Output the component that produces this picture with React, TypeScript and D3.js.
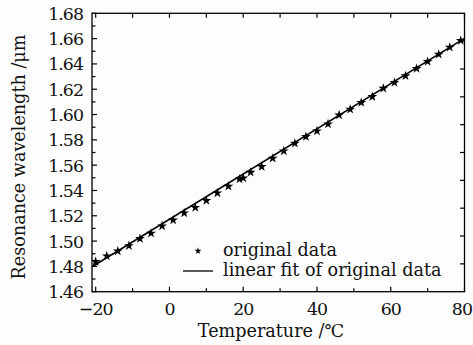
import React from "react";
import * as d3 from "d3";

const temperatures = [-20, -17, -14, -11, -8, -5, -2, 1, 4, 7, 10, 13, 16, 19, 20, 22, 25, 28, 31, 34, 37, 40, 43, 46, 49, 52, 55, 58, 61, 64, 67, 70, 73, 76, 79];
const wavelengths = [1.4837, 1.4882, 1.4921, 1.4963, 1.5019, 1.5061, 1.5119, 1.5166, 1.5222, 1.5265, 1.532, 1.538, 1.5433, 1.549, 1.5498, 1.5543, 1.5588, 1.5654, 1.5712, 1.5772, 1.5825, 1.587, 1.5925, 1.5996, 1.6041, 1.6094, 1.6141, 1.6207, 1.6252, 1.6305, 1.6363, 1.6418, 1.6476, 1.6531, 1.6584];
const fitX = [-21, 80];
const fitY = [1.4797, 1.6602];
const xTicks = [-20, 0, 20, 40, 60, 80];
const yTicks = [1.46, 1.48, 1.5, 1.52, 1.54, 1.56, 1.58, 1.6, 1.62, 1.64, 1.66, 1.68];
const legendLabels = ["original data", "linear fit of original data"];

const W = 473, H = 345;
const M = { left: 92, right: 464.5, top: 13.3, bottom: 291.7 };
const FONT = "DejaVu Serif, serif";

export default function App() {
  const x = d3.scaleLinear().domain([-21, 80]).range([M.left, M.right]);
  const y = d3.scaleLinear().domain([1.46, 1.68]).range([M.bottom, M.top]);
  const rightScale = d3.scaleLinear().domain([0, 10]).range([M.bottom, M.top]);
  const xMinor = d3.range(-20, 81, 10);
  const yMinor = d3.range(0, 23).map((i) => 1.46 + i * 0.01);
  const star = d3.symbol().type(d3.symbolStar).size(30)();
  const starSmall = d3.symbol().type(d3.symbolStar).size(15)();
  const line = d3.line<number>().x((d) => x(d)).y((_, i) => y(fitY[i]));
  const fmtX = (v: number) => (v < 0 ? "\u2212" + Math.abs(v) : String(v));
  const ts = { fontFamily: FONT, fontSize: 17.6, fill: "#111" } as React.CSSProperties;
  const tk = { fontFamily: FONT, fontSize: 17.4, letterSpacing: -1, fill: "#111" } as React.CSSProperties;

  return (
    <svg width={W} height={H} style={{ position: "absolute", left: 0, top: 0, background: "#fdfdfd" }}>
      <path d={line(fitX) || ""} stroke="#000" strokeWidth={1.6} fill="none" />
      {temperatures.map((t, i) => (
        <path key={i} d={star} transform={`translate(${x(t)},${y(wavelengths[i])})`} fill="#000" />
      ))}
      <rect x={M.left} y={M.top} width={M.right - M.left} height={M.bottom - M.top} fill="none" stroke="#000" strokeWidth={1.3} />
      {xMinor.map((v) => {
        const major = v % 20 === 0;
        return (
          <g key={"xt" + v}>
            <line x1={x(v)} x2={x(v)} y1={M.bottom} y2={M.bottom - (major ? 5 : 3.5)} stroke="#000" strokeWidth={1.2} />
            <line x1={x(v)} x2={x(v)} y1={M.top} y2={M.top + 4.5} stroke="#000" strokeWidth={1.2} />
          </g>
        );
      })}
      {yMinor.map((v, i) => (
        <line key={"yt" + i} x1={M.left} x2={M.left + (i % 2 === 0 ? 5 : 3.5)} y1={y(v)} y2={y(v)} stroke="#000" strokeWidth={1.2} />
      ))}
      {d3.range(1, 10).map((v) => (
        <line key={"rt" + v} x1={M.right} x2={M.right - 4.5} y1={rightScale(v)} y2={rightScale(v)} stroke="#000" strokeWidth={1.2} />
      ))}
      {xTicks.map((v, i) => {
        const last = i === xTicks.length - 1;
        return (
          <text key={"xl" + v} x={last ? W - 1 : x(v)} y={315} textAnchor={last ? "end" : "middle"} style={tk}>
            {fmtX(v)}
          </text>
        );
      })}
      {yTicks.map((v) => (
        <text key={"yl" + v} x={83} y={y(v) + 6.5} textAnchor="end" style={tk}>
          {v.toFixed(2)}
        </text>
      ))}
      <text x={271} y={337} textAnchor="middle" style={ts}>
        Temperature /℃
      </text>
      <text transform={`translate(25,157) rotate(-90)`} textAnchor="middle" style={ts}>
        Resonance wavelength /μm
      </text>
      <path d={starSmall} transform="translate(198,251)" fill="#000" />
      <text x={223} y={256} style={ts}>{legendLabels[0]}</text>
      <line x1={183} x2={213} y1={271} y2={271} stroke="#000" strokeWidth={1.3} />
      <text x={223} y={276} style={ts}>{legendLabels[1]}</text>
    </svg>
  );
}
